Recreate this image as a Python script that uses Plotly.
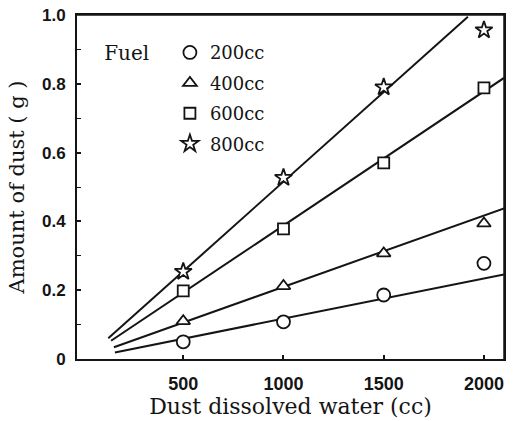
import plotly.graph_objects as go

# ---- data ----
water_cc = [500, 1000, 1500, 2000]

dust_200cc = [0.050, 0.108, 0.186, 0.278]
dust_400cc = [0.110, 0.212, 0.307, 0.394]
dust_600cc = [0.198, 0.378, 0.570, 0.788]
dust_800cc = [0.254, 0.527, 0.790, 0.956]

# fitted straight lines (start / end points)
fit_200cc_x = [159, 2100]
fit_200cc_y = [0.019, 0.246]
fit_400cc_x = [154, 2100]
fit_400cc_y = [0.034, 0.438]
fit_600cc_x = [140, 2100]
fit_600cc_y = [0.053, 0.817]
fit_800cc_x = [126, 1920]
fit_800cc_y = [0.060, 0.995]

series_names = ["200cc", "400cc", "600cc", "800cc"]
series_symbols = ["circle", "triangle-up", "square", "star"]
series_sizes = [13, 12, 11, 13]

x_tick_vals = [500, 1000, 1500, 2000]
x_tick_text = ["500", "1000", "1500", "2000"]
y_tick_vals = [0, 0.2, 0.4, 0.6, 0.8, 1.0]
y_tick_text = ["0", "0.2", "0.4", "0.6", "0.8", "1.0"]

INK = "#141414"
SERIF = "DejaVu Serif"
SANS = "Liberation Sans"

fig = go.Figure()

fits = [(fit_200cc_x, fit_200cc_y), (fit_400cc_x, fit_400cc_y),
        (fit_600cc_x, fit_600cc_y), (fit_800cc_x, fit_800cc_y)]
for fx, fy in fits:
    fig.add_trace(go.Scatter(x=fx, y=fy, mode="lines",
                             line=dict(color=INK, width=2),
                             showlegend=False, hoverinfo="skip"))

values = [dust_200cc, dust_400cc, dust_600cc, dust_800cc]
for name, vals, sym, sz in zip(series_names, values, series_symbols, series_sizes):
    fig.add_trace(go.Scatter(
        x=water_cc, y=vals, mode="markers", name=name, legendgroup=name,
        marker=dict(symbol=sym, size=sz, color="white",
                    line=dict(color=INK, width=1.8)),
    ))

fig.update_layout(
    width=514, height=421,
    margin=dict(l=77, r=10, t=15, b=62),
    paper_bgcolor="white", plot_bgcolor="white",
    font=dict(family=SERIF, color=INK),
    showlegend=True,
    legend=dict(
        x=0.059, y=0.944, xanchor="left", yanchor="top",
        bgcolor="rgba(0,0,0,0)", borderwidth=0,
        font=dict(family=SERIF, size=18, color=INK),
        title=dict(text="Fuel  ", side="left",
                   font=dict(family=SERIF, size=20, color=INK)),
        tracegroupgap=4, itemsizing="trace",
    ),
    xaxis=dict(
        range=[-30, 2100], showgrid=False, zeroline=False, automargin=False,
        showline=True, linewidth=2, linecolor=INK, mirror=True,
        tickvals=x_tick_vals, ticktext=x_tick_text,
        ticks="inside", ticklen=4, tickwidth=1.5, tickcolor=INK,
        tickfont=dict(family=SANS, size=18, color=INK, weight="bold"),
        ticklabelstandoff=7, ticklabeloverflow="allow",
        title=dict(text="Dust dissolved water (cc)",
                   font=dict(family=SERIF, size=22, color=INK), standoff=6),
    ),
    yaxis=dict(
        range=[0, 1.0], showgrid=False, zeroline=False, automargin=False,
        showline=True, linewidth=2, linecolor=INK, mirror=True,
        tickvals=y_tick_vals, ticktext=y_tick_text,
        ticks="inside", ticklen=4, tickwidth=1.5, tickcolor=INK,
        minor=dict(ticks="inside", dtick=0.1, ticklen=4, tickwidth=1.2, tickcolor=INK),
        tickfont=dict(family=SANS, size=17, color=INK, weight="bold"),
        ticklabelstandoff=6, ticklabeloverflow="allow",
        title=dict(text="Amount of dust ( g )",
                   font=dict(family=SERIF, size=21, color=INK), standoff=12),
    ),
    shapes=[
        dict(type="line", xref="paper", yref="paper", x0=0, x1=1, y0=1, y1=1,
             line=dict(color=INK, width=1.5)),
        dict(type="line", xref="paper", yref="paper", x0=1, x1=1, y0=0, y1=1,
             line=dict(color=INK, width=1.5)),
    ],
)

# remove the browser's default 8px page margin so the figure fills the window
fig.write_html("out.html", config={"displayModeBar": False},
               post_script="document.body.style.margin='0px';")
